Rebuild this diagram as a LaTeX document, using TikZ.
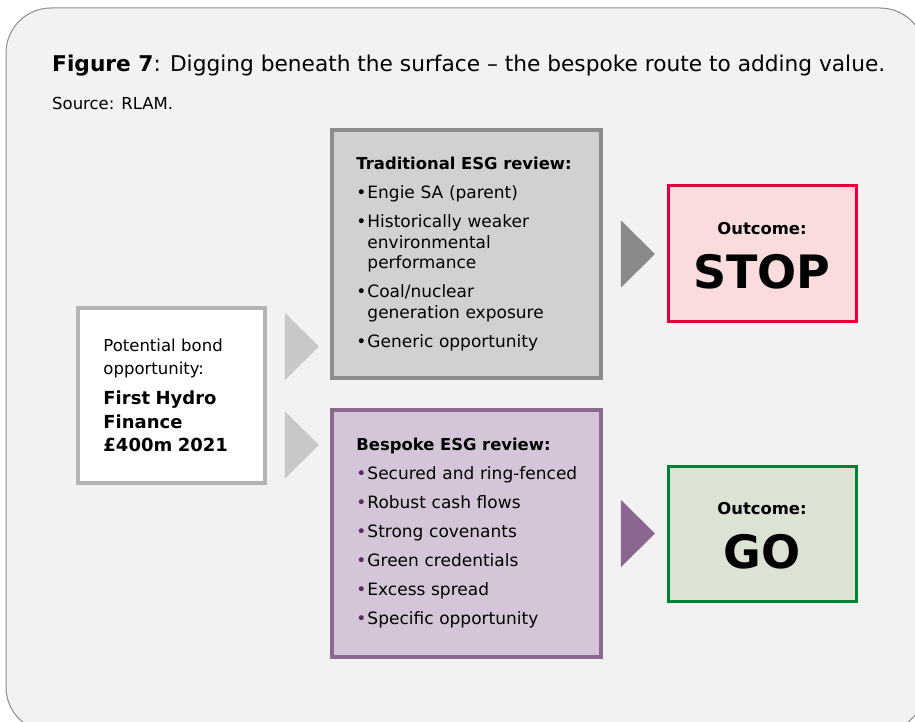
\documentclass[tikz,border=0pt]{standalone}
\usepackage{fontspec}
\setmainfont{DejaVu Sans}
\usetikzlibrary{shapes.geometric}

\definecolor{panelfill}{HTML}{F2F2F2}
\definecolor{panelline}{HTML}{8C8C8C}
\definecolor{inputline}{HTML}{B4B4B4}
\definecolor{tradfill}{HTML}{D1D1D1}
\definecolor{tradline}{HTML}{8C8C8C}
\definecolor{bespfill}{HTML}{D4C6D8}
\definecolor{bespline}{HTML}{8A6A8E}
\definecolor{bespdot}{HTML}{5B2A5E}
\definecolor{stopfill}{HTML}{F9DCDB}
\definecolor{stopline}{HTML}{E2003C}
\definecolor{gofill}{HTML}{DAE3D4}
\definecolor{goline}{HTML}{008236}
\definecolor{tripale}{HTML}{C8C8C8}
\definecolor{tridark}{HTML}{8A8A8A}
\definecolor{tripurple}{HTML}{8A6690}

% bullet item with hanging indent
\newcommand{\bitem}[2][black]{\par\vspace{8.5pt}\hangindent=11pt\hangafter=1\noindent\makebox[11pt][l]{\textcolor{#1}{\textbullet}}#2}

\begin{document}
\begin{tikzpicture}[x=1pt,y=-1pt]
   \tikzstyle{box} = [rectangle, line width=3.5pt, inner sep=0pt]
   \tikzstyle{listtext} = [anchor=west, inner sep=0pt, text width=240pt, align=left, font=\fontsize{17}{20.5}\selectfont]
   \tikzstyle{pointer} = [isosceles triangle, isosceles triangle stretches, shape border rotate=0, inner sep=0pt, minimum width=67pt, minimum height=34pt]
   \tikzstyle{outlabel} = [anchor=base, inner sep=0pt, font=\fontsize{16.4}{16.4}\selectfont\bfseries]
   \tikzstyle{outword} = [anchor=base, inner sep=0pt, font=\fontsize{46}{46}\selectfont\bfseries]

   \useasboundingbox (0,0) rectangle (915,722);
   \begin{scope}
     \clip (0,0) rectangle (915,722);
     \draw[panelline, fill=panelfill, line width=1pt, rounded corners=45pt] (6,8) rectangle (925,732);
   \end{scope}

   % heading
   \node[anchor=base west, inner sep=0pt, font=\fontsize{21.7}{21.7}\selectfont] (title) at (52,72)
     {\textbf{Figure 7}: Digging beneath the surface -- the bespoke route to adding value.};
   \node[anchor=base west, inner sep=0pt, font=\fontsize{16.5}{16.5}\selectfont] (source) at (52,110) {Source: RLAM.};

   % boxes
   \draw
     (171.5,395.5) node[box, draw=inputline, fill=white, minimum width=187pt, minimum height=175pt] (input){}
     (466.5,254) node[box, draw=tradline, fill=tradfill, minimum width=269pt, minimum height=248pt] (trad){}
     (466.5,533.5) node[box, draw=bespline, fill=bespfill, minimum width=269pt, minimum height=247pt] (besp){}
     (762,253.5) node[box, line width=3pt, draw=stopline, fill=stopfill, minimum width=188pt, minimum height=135pt] (stop){}
     (762,533.5) node[box, line width=3pt, draw=goline, fill=gofill, minimum width=188pt, minimum height=135pt] (go){};

   % pointers
   \draw
     (299,346.5) node[pointer, fill=tripale] (p1){}
     (299,445) node[pointer, fill=tripale] (p2){}
     (635,254) node[pointer, fill=tridark] (p3){}
     (635,533.5) node[pointer, fill=tripurple] (p4){};

   % texts
   \node[listtext, text width=150pt, font=\fontsize{16.5}{23.5}\selectfont] (inputtext) at ([xshift=27pt]input.west)
     {Potential bond\newline opportunity:\par\vspace{6.5pt}{\fontsize{18}{23.8}\selectfont\bfseries First Hydro\newline Finance\newline £400m 2021}};
   \node[listtext] (tradtext) at ([xshift=26pt]trad.west)
     {{\fontsize{16.4}{20.5}\selectfont\bfseries Traditional ESG review:}
      \bitem{Engie SA (parent)}
      \bitem{Historically weaker\newline environmental\newline performance}
      \bitem{Coal/nuclear\newline generation exposure}
      \bitem{Generic opportunity}};
   \node[listtext] (besptext) at ([xshift=26pt]besp.west)
     {{\fontsize{16.4}{20.5}\selectfont\bfseries Bespoke ESG review:}
      \bitem[bespdot]{Secured and ring-fenced}
      \bitem[bespdot]{Robust cash flows}
      \bitem[bespdot]{Strong covenants}
      \bitem[bespdot]{Green credentials}
      \bitem[bespdot]{Excess spread}
      \bitem[bespdot]{Specific opportunity}};
   \node[outlabel] (stoplabel) at ([yshift=19.5pt]stop.center) {Outcome:};
   \node[outword] (stopword) at ([yshift=-34.5pt]stop.center) {STOP};
   \node[outlabel] (golabel) at ([yshift=19.5pt]go.center) {Outcome:};
   \node[outword] (goword) at ([yshift=-34.5pt]go.center) {GO};
\end{tikzpicture}
\end{document}
